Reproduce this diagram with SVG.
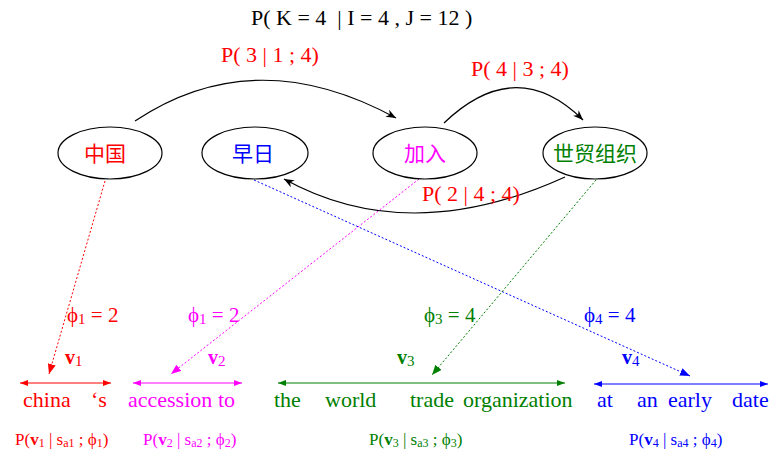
<svg xmlns="http://www.w3.org/2000/svg" width="771" height="452" viewBox="0 0 771 452">
<style>
.t{font-family:"Liberation Serif","Times New Roman",serif}
.cjk{font-family:"Noto Sans CJK SC","Noto Sans CJK JP",sans-serif;font-size:21px;text-anchor:middle}
.node{fill:#fff;stroke:#000;stroke-width:1.2}
.arc{fill:none;stroke:#000;stroke-width:1.2}
.dash{fill:none;stroke-width:1;stroke-dasharray:2,2}
.hl{fill:none;stroke-width:1.2}
.w{font-size:22px}
.lab{font-size:22px;fill:#ff0000}
.phi{font-size:21px}
.bp{font-size:17px}
.r{fill:#ff0000}.m{fill:#ff00ff}.g{fill:#008000}.b{fill:#0000ff}
</style>
<defs>
<marker id="ak" markerWidth="12" markerHeight="10" refX="10" refY="4" orient="auto" markerUnits="userSpaceOnUse"><path d="M0,0 L10,4 L0,8 L3,4 z" fill="#000"/></marker>
<marker id="ar" markerWidth="12" markerHeight="10" refX="10" refY="4" orient="auto" markerUnits="userSpaceOnUse"><path d="M0,0 L10,4 L0,8 z" fill="#ff0000"/></marker>
<marker id="am" markerWidth="12" markerHeight="10" refX="10" refY="4" orient="auto" markerUnits="userSpaceOnUse"><path d="M0,0 L10,4 L0,8 z" fill="#ff00ff"/></marker>
<marker id="ag" markerWidth="12" markerHeight="10" refX="10" refY="4" orient="auto" markerUnits="userSpaceOnUse"><path d="M0,0 L10,4 L0,8 z" fill="#008000"/></marker>
<marker id="ab" markerWidth="12" markerHeight="10" refX="10" refY="4" orient="auto" markerUnits="userSpaceOnUse"><path d="M0,0 L10,4 L0,8 z" fill="#0000ff"/></marker>
<marker id="hr" markerWidth="9" markerHeight="8" refX="8" refY="3" orient="auto-start-reverse" markerUnits="userSpaceOnUse"><path d="M0,0 L8,3 L0,6 z" fill="#ff0000"/></marker>
<marker id="hm" markerWidth="9" markerHeight="8" refX="8" refY="3" orient="auto-start-reverse" markerUnits="userSpaceOnUse"><path d="M0,0 L8,3 L0,6 z" fill="#ff00ff"/></marker>
<marker id="hg" markerWidth="9" markerHeight="8" refX="8" refY="3" orient="auto-start-reverse" markerUnits="userSpaceOnUse"><path d="M0,0 L8,3 L0,6 z" fill="#008000"/></marker>
<marker id="hb" markerWidth="9" markerHeight="8" refX="8" refY="3" orient="auto-start-reverse" markerUnits="userSpaceOnUse"><path d="M0,0 L8,3 L0,6 z" fill="#0000ff"/></marker>
</defs>

<text class="t" x="251" y="25" font-size="22" xml:space="preserve">P( K = 4  | I = 4 , J = 12 )</text>

<g id="connectors">
<path class="arc" d="M135,121 Q255,41 396,118" marker-end="url(#ak)"/>
<path class="arc" d="M444,123 Q516,54 583,120" marker-end="url(#ak)"/>
<path class="arc" d="M565,177 Q409,248 284,179" marker-end="url(#ak)"/>
<text class="t lab" x="221" y="62">P( 3 | 1 ; 4)</text>
<text class="t lab" x="471" y="76">P( 4 | 3 ; 4)</text>
<text class="t lab" x="422" y="201">P( 2 | 4 ; 4)</text>

<line class="dash" x1="105" y1="181" x2="49" y2="374" stroke="#ff0000" marker-end="url(#ar)"/>
<line class="dash" x1="419" y1="179" x2="171" y2="374" stroke="#ff00ff" marker-end="url(#am)"/>
<line class="dash" x1="254" y1="180" x2="690" y2="376" stroke="#0000ff" marker-end="url(#ab)"/>
<line class="dash" x1="596" y1="180" x2="432" y2="375" stroke="#008000" marker-end="url(#ag)"/>

<line class="hl" x1="20" y1="383" x2="111" y2="383" stroke="#ff0000" marker-start="url(#hr)" marker-end="url(#hr)"/>
<line class="hl" x1="133" y1="383" x2="242" y2="383" stroke="#ff00ff" marker-start="url(#hm)" marker-end="url(#hm)"/>
<line class="hl" x1="278" y1="383" x2="565" y2="383" stroke="#008000" marker-start="url(#hg)" marker-end="url(#hg)"/>
<line class="hl" x1="594" y1="384" x2="768" y2="384" stroke="#0000ff" marker-start="url(#hb)" marker-end="url(#hb)"/>
</g>

<g id="n-zhongguo"><ellipse class="node" cx="110" cy="153" rx="52" ry="26"/><text class="cjk" x="105" y="161" fill="#ff0000">中国</text></g>
<g id="n-zaori"><ellipse class="node" cx="255" cy="153" rx="53" ry="26"/><text class="cjk" x="253" y="161" fill="#0000ff">早日</text></g>
<g id="n-jiaru"><ellipse class="node" cx="425" cy="153" rx="52" ry="26"/><text class="cjk" x="425" y="161" fill="#ff00ff">加入</text></g>
<g id="n-shimao"><ellipse class="node" cx="595" cy="153" rx="52" ry="26"/><text class="cjk" x="595" y="161" fill="#008000">世贸组织</text></g>

<g id="phi">
<text class="t phi r" x="67" y="322">ϕ<tspan font-size="15" dy="2">1</tspan><tspan dy="-2" xml:space="preserve"> = 2</tspan></text>
<text class="t phi m" x="188" y="322">ϕ<tspan font-size="15" dy="2">1</tspan><tspan dy="-2" xml:space="preserve"> = 2</tspan></text>
<text class="t phi g" x="424" y="322">ϕ<tspan font-size="15" dy="2">3</tspan><tspan dy="-2" xml:space="preserve"> = 4</tspan></text>
<text class="t phi b" x="584" y="322">ϕ<tspan font-size="15" dy="2">4</tspan><tspan dy="-2" xml:space="preserve"> = 4</tspan></text>
</g>

<g id="v">
<text class="t r" x="65" y="364" font-size="20"><tspan font-weight="bold">v</tspan><tspan font-size="15" dy="2">1</tspan></text>
<text class="t m" x="208" y="364" font-size="20"><tspan font-weight="bold">v</tspan><tspan font-size="15" dy="2">2</tspan></text>
<text class="t g" x="397" y="364" font-size="20"><tspan font-weight="bold">v</tspan><tspan font-size="15" dy="2">3</tspan></text>
<text class="t b" x="622" y="364" font-size="20"><tspan font-weight="bold">v</tspan><tspan font-size="15" dy="2">4</tspan></text>
</g>

<g id="words">
<text class="t w r" x="23" y="407">china</text>
<text class="t w r" x="91" y="407">‘s</text>
<text class="t w m" x="128" y="407">accession</text>
<text class="t w m" x="218" y="407">to</text>
<text class="t w g" x="274" y="407">the</text>
<text class="t w g" x="325" y="407">world</text>
<text class="t w g" x="410" y="407">trade</text>
<text class="t w g" x="463" y="407">organization</text>
<text class="t w b" x="597" y="407">at</text>
<text class="t w b" x="637" y="407">an</text>
<text class="t w b" x="668" y="407">early</text>
<text class="t w b" x="732" y="407">date</text>
</g>

<g id="probs">
<text class="t bp r" x="15" y="445">P(<tspan font-weight="bold">v</tspan><tspan font-size="12" dy="2">1</tspan><tspan dy="-2"> | s</tspan><tspan font-size="12" dy="2">a1</tspan><tspan dy="-2"> ; ϕ</tspan><tspan font-size="12" dy="2">1</tspan><tspan dy="-2">)</tspan></text>
<text class="t bp m" x="143" y="445">P(<tspan font-weight="bold">v</tspan><tspan font-size="12" dy="2">2</tspan><tspan dy="-2"> | s</tspan><tspan font-size="12" dy="2">a2</tspan><tspan dy="-2"> ; ϕ</tspan><tspan font-size="12" dy="2">2</tspan><tspan dy="-2">)</tspan></text>
<text class="t bp g" x="369" y="445">P(<tspan font-weight="bold">v</tspan><tspan font-size="12" dy="2">3</tspan><tspan dy="-2"> | s</tspan><tspan font-size="12" dy="2">a3</tspan><tspan dy="-2"> ; ϕ</tspan><tspan font-size="12" dy="2">3</tspan><tspan dy="-2">)</tspan></text>
<text class="t bp b" x="629" y="445">P(<tspan font-weight="bold">v</tspan><tspan font-size="12" dy="2">4</tspan><tspan dy="-2"> | s</tspan><tspan font-size="12" dy="2">a4</tspan><tspan dy="-2"> ; ϕ</tspan><tspan font-size="12" dy="2">4</tspan><tspan dy="-2">)</tspan></text>
</g>
</svg>
